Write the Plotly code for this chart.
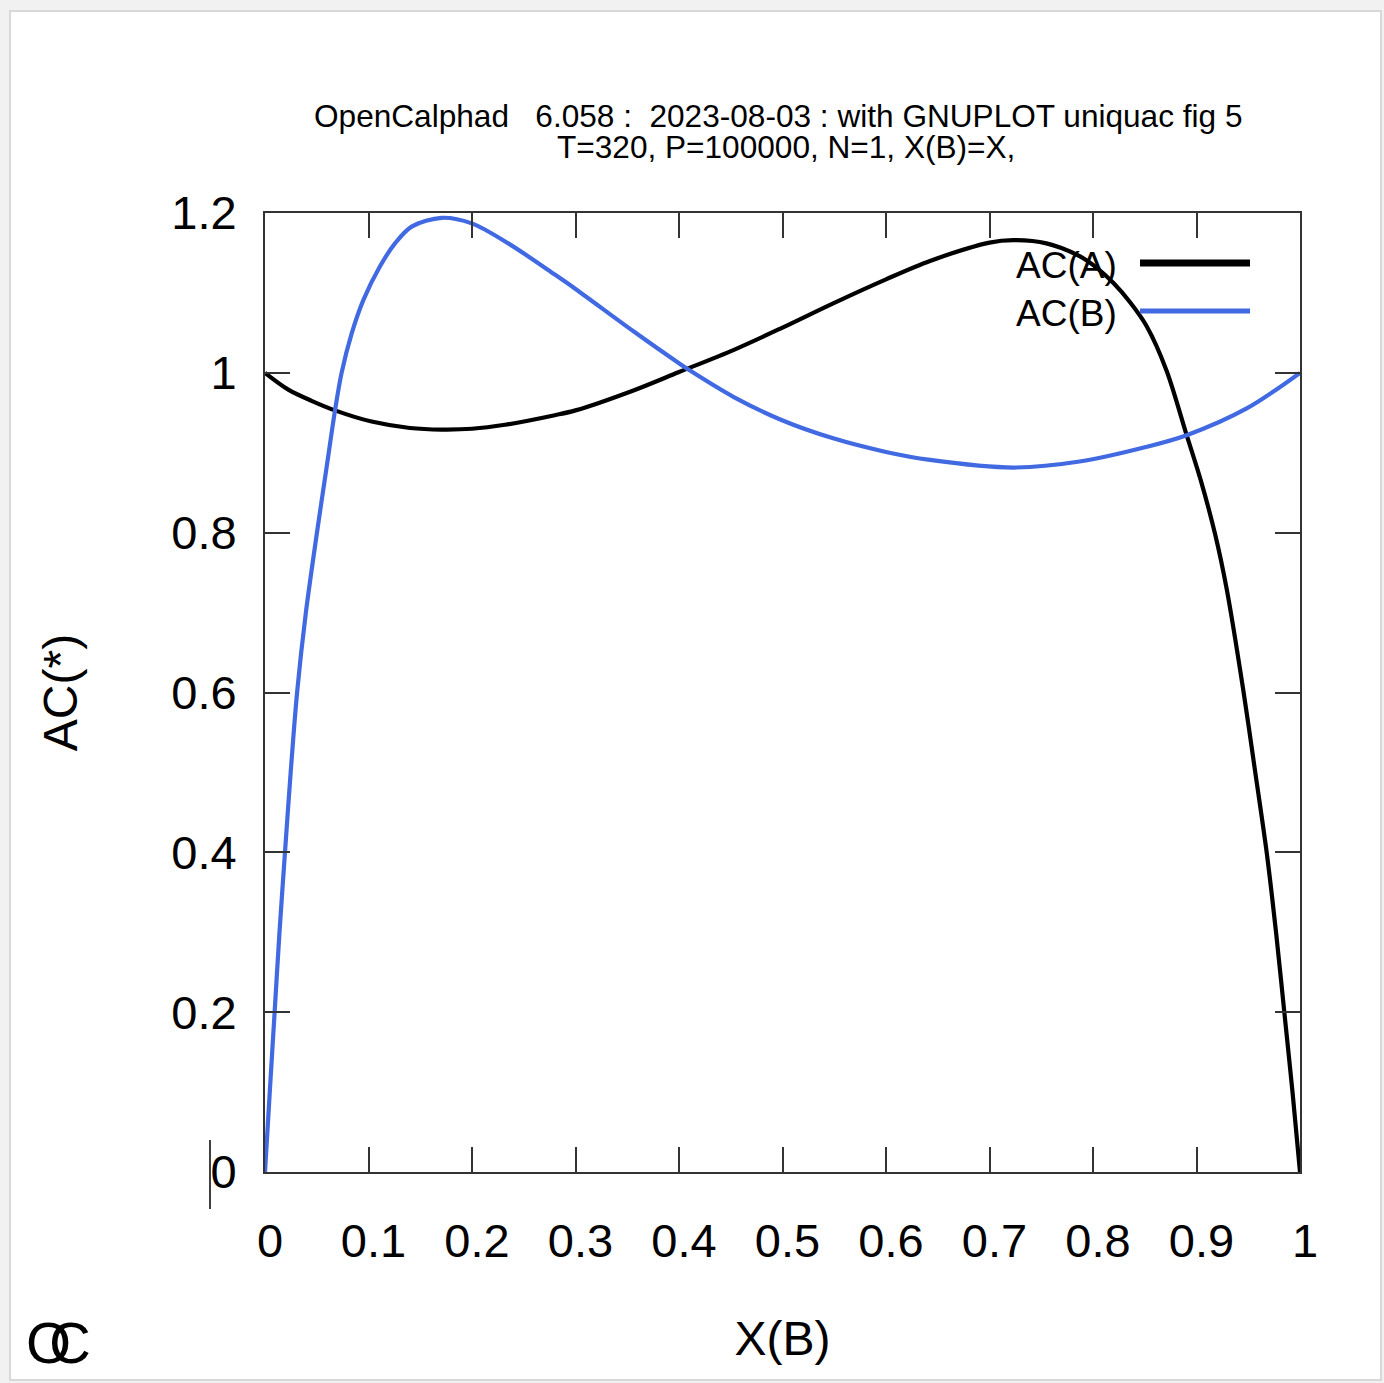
import plotly.graph_objects as go

# ---- data ----
xa = [0, 0.0225, 0.045, 0.0676, 0.103, 0.14, 0.171, 0.20, 0.232, 0.280, 0.300, 0.356, 0.400,
      0.4525, 0.499, 0.549, 0.600, 0.6425, 0.700, 0.723, 0.755, 0.787, 0.804, 0.820, 0.836,
      0.852, 0.871, 0.8905, 0.904, 0.918, 0.9291, 0.9452, 0.957, 0.968, 0.977, 0.985,
      0.993, 1.0]
ac_a = [1.0, 0.979, 0.965, 0.953, 0.939, 0.931, 0.929, 0.930, 0.935, 0.947, 0.953, 0.978,
        1.001, 1.0285, 1.056, 1.087, 1.117, 1.140, 1.163, 1.166, 1.162, 1.146, 1.131, 1.112, 1.088,
        1.058, 1.003, 0.922, 0.866, 0.798, 0.730, 0.603, 0.498, 0.398, 0.298, 0.198,
        0.097, 0.0]

xb = [0, 0.0046, 0.0093, 0.0140, 0.0193, 0.0248, 0.0310, 0.0395, 0.0502, 0.0596,
      0.0676, 0.074, 0.0837, 0.095, 0.111, 0.1256, 0.1417, 0.1707, 0.1997, 0.235, 0.280,
      0.300, 0.356, 0.400, 0.411, 0.4525, 0.499, 0.549, 0.600, 0.6425, 0.723, 0.787,
      0.852, 0.8905, 0.9485, 1.0]
ac_b = [0, 0.1, 0.2, 0.3, 0.4, 0.5, 0.6, 0.7, 0.8, 0.8825,
        0.9526, 1.0, 1.049, 1.091, 1.133, 1.162, 1.183, 1.194, 1.187, 1.162, 1.123,
        1.105, 1.052, 1.012, 1.0025, 0.970, 0.941, 0.918, 0.901, 0.891, 0.8815, 0.889,
        0.9075, 0.922, 0.9555, 1.0]

series_names = ["AC(A)", "AC(B)"]
series_colors = ["#000000", "#4169E1"]

xticks = [0, 0.1, 0.2, 0.3, 0.4, 0.5, 0.6, 0.7, 0.8, 0.9, 1]
xticklabels = ["0", "0.1", "0.2", "0.3", "0.4", "0.5", "0.6", "0.7", "0.8", "0.9", "1"]
yticks = [0, 0.2, 0.4, 0.6, 0.8, 1.0, 1.2]
yticklabels = ["0", "0.2", "0.4", "0.6", "0.8", "1", "1.2"]

title1 = "OpenCalphad\u00a0\u00a0\u00a06.058\u00a0:\u00a0\u00a02023-08-03\u00a0: with GNUPLOT uniquac fig 5"
title2 = "T=320, P=100000, N=1, X(B)=X,"

FONT = "Liberation Sans, Arial, sans-serif"

fig = go.Figure()
fig.add_trace(go.Scatter(x=xa, y=ac_a, mode="lines", name=series_names[0],
                         line=dict(color=series_colors[0], width=4.2, shape="spline", smoothing=0.9)))
fig.add_trace(go.Scatter(x=xb, y=ac_b, mode="lines", name=series_names[1],
                         line=dict(color=series_colors[1], width=4.2, shape="spline", smoothing=0.9)))

W, H = 1384, 1383
L, R, T, B = 265, 84, 213, 211
pw, ph = W - L - R, H - T - B


def px(xp):
    return (xp - L) / pw


def py(yp):
    return (H - B - yp) / ph


shapes = []
# white panel with grey border
shapes.append(dict(type="rect", xref="paper", yref="paper", x0=px(10), x1=px(1381),
                   y0=py(1380), y1=py(11), fillcolor="white",
                   line=dict(color="#d8d8d8", width=2), layer="below"))
# legend samples
shapes.append(dict(type="line", xref="paper", yref="paper", x0=px(1140), x1=px(1250),
                   y0=py(263), y1=py(263), line=dict(color=series_colors[0], width=7)))
shapes.append(dict(type="line", xref="paper", yref="paper", x0=px(1140), x1=px(1250),
                   y0=py(311), y1=py(311), line=dict(color=series_colors[1], width=5)))
# small cursor-like bar next to the "0" y tick label
shapes.append(dict(type="line", xref="paper", yref="paper", x0=px(210), x1=px(210),
                   y0=py(1140), y1=py(1209), line=dict(color="#000000", width=1.5)))

annotations = [
    dict(text=title1, x=px(778), y=py(116), xref="paper", yref="paper", showarrow=False,
         xanchor="center", yanchor="middle", font=dict(size=31.6, color="black", family=FONT)),
    dict(text=title2, x=px(786), y=py(147), xref="paper", yref="paper", showarrow=False,
         xanchor="center", yanchor="middle", font=dict(size=31.6, color="black", family=FONT)),
    dict(text=series_names[0], x=px(1119), y=py(265), xref="paper", yref="paper", showarrow=False,
         xanchor="right", yanchor="middle", font=dict(size=37, color="black", family=FONT)),
    dict(text=series_names[1], x=px(1119), y=py(313), xref="paper", yref="paper", showarrow=False,
         xanchor="right", yanchor="middle", font=dict(size=37, color="black", family=FONT)),
    dict(text="O", x=px(48), y=py(1342), xref="paper", yref="paper", showarrow=False,
         xanchor="center", yanchor="middle", font=dict(size=58, color="black", family=FONT)),
    dict(text="C", x=px(70), y=py(1342), xref="paper", yref="paper", showarrow=False,
         xanchor="center", yanchor="middle", font=dict(size=58, color="black", family=FONT)),
]

axis_common = dict(showgrid=False, zeroline=False, showline=True, linecolor="#333333",
                   linewidth=2, mirror="ticks", ticks="inside", ticklen=25, tickwidth=2,
                   tickcolor="#333333", tickfont=dict(size=47, color="black", family=FONT))

fig.update_layout(
    width=W, height=H,
    margin=dict(l=L, r=R, t=T, b=B, autoexpand=False),
    paper_bgcolor="#f1f1f1", plot_bgcolor="white",
    showlegend=False,
    shapes=shapes, annotations=annotations,
    xaxis=dict(range=[0, 1], tickvals=xticks, ticktext=xticklabels,
               ticklabelstandoff=27, ticklabelshift=5,
               title=dict(text="X(B)", font=dict(size=48, color="black", family=FONT), standoff=55),
               **axis_common),
    yaxis=dict(range=[0, 1.2], tickvals=yticks, ticktext=yticklabels,
               ticklabelstandoff=17,
               title=dict(text="AC(*)", font=dict(size=48, color="black", family=FONT), standoff=78),
               **axis_common),
)

fig.write_html("out.html", config={"displayModeBar": False},
               post_script="document.body.style.margin='0px';document.body.style.background='#f1f1f1';")
